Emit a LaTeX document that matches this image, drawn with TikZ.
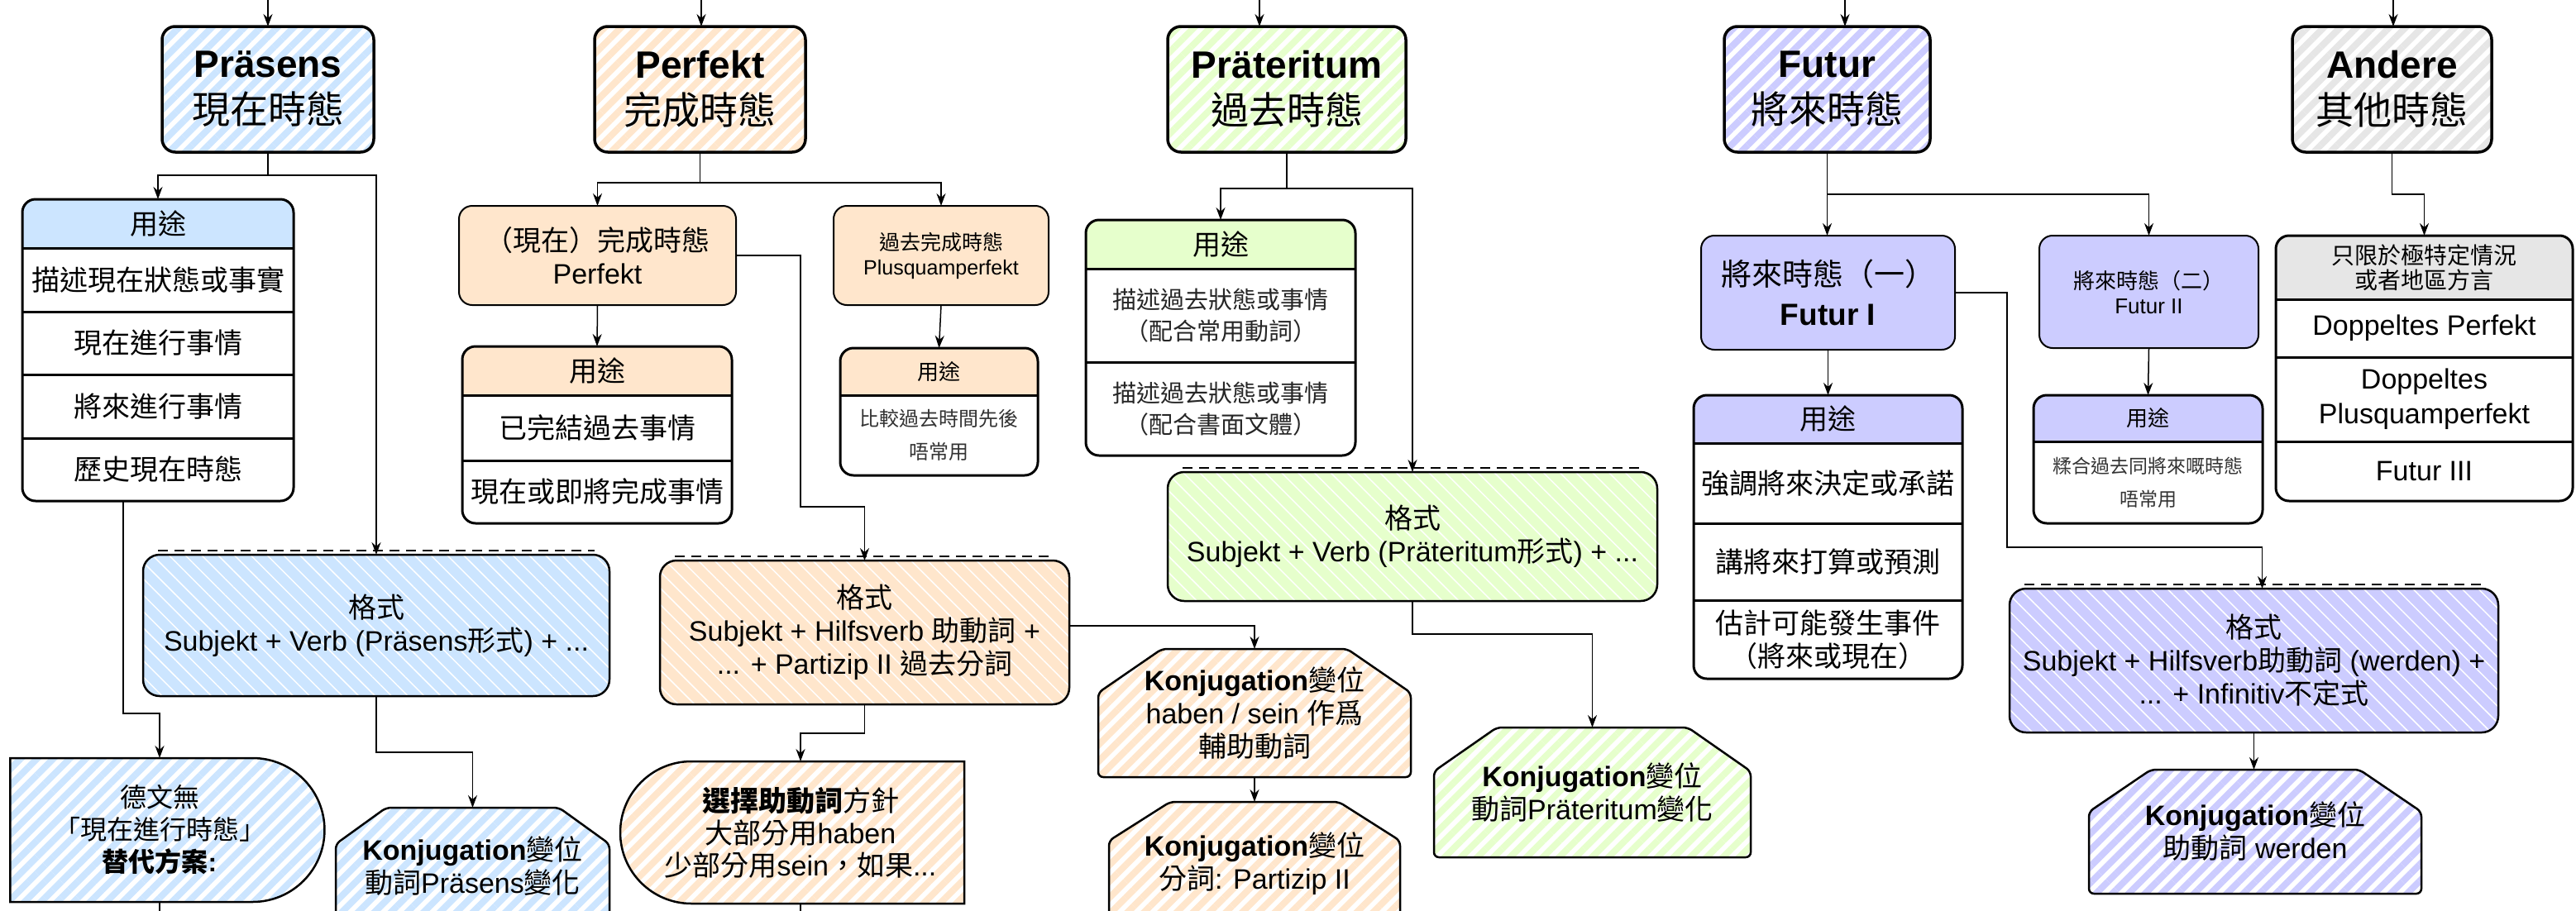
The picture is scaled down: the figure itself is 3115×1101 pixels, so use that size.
\documentclass[tikz,border=0pt]{standalone}
\usepackage{fontspec}
\setmainfont{Liberation Sans}
\newfontfamily\cjk{Noto Sans CJK TC}
\usetikzlibrary{positioning,arrows.meta,patterns.meta,shapes.misc}
\newcommand\zh[1]{{\cjk #1}}
\definecolor{cblue}{HTML}{CCE5FF}
\definecolor{corange}{HTML}{FFE6CC}
\definecolor{cgreen}{HTML}{E6FFCC}
\definecolor{cpurple}{HTML}{CCCCFF}
\definecolor{cgray}{HTML}{E6E6E6}
\pgfdeclarelayer{bg}
\pgfsetlayers{bg,main}
\tikzset{
  base/.style={inner sep=0pt, outer sep=0pt, align=center, font=\fontsize{34}{40}\selectfont},
  hatch/.style={pattern={Lines[angle=45,distance=14pt,line width=8pt]}, pattern color=#1},
  tense/.style={base, draw, line width=3.5pt, rounded corners=16pt, minimum height=152pt, font=\fontsize{46}{56}\selectfont},
  sub/.style={base, draw, line width=2pt, rounded corners=16pt, fill=#1},
  fmt/.style={base, draw, line width=2.5pt, rounded corners=20pt, preaction={fill=#1}, pattern={Lines[angle=-45,distance=14pt,line width=1.5pt]}, pattern color=white},
  half/.style={base, draw, line width=2.5pt, rounded rectangle, hatch=#1},
  small/.style={font=\fontsize{24}{40}\selectfont, text=black!80},
  conn/.style={line width=1.5pt, -{Stealth[length=15pt,width=11pt]}},
  wire/.style={line width=1.5pt},
  tbl/.style={line width=3pt, rounded corners=16pt},
  sep/.style={line width=3pt},
  dashtop/.style={dashed, dash pattern=on 12pt off 8pt, line width=2pt},
}
% table outline, header fill and header rule
\newcommand\tablebox[3]{%
  \begin{pgfonlayer}{bg}
    \fill[white, rounded corners=16pt] (#1.north west) rectangle (#2.south east);
    \begin{scope}
      \clip[rounded corners=16pt] (#1.north west) rectangle (#2.south east);
      \fill[#3] (#1.north west) rectangle (#1.south east);
    \end{scope}
  \end{pgfonlayer}
  \draw[tbl] (#1.north west) rectangle (#2.south east);
  \draw[sep] (#1.south west) -- (#1.south east);
}
% octagon-like box with cut top corners
\newcommand\konjbox[4]{%
  \begin{pgfonlayer}{bg}
    \path[hatch=#4, rounded corners=6pt] (#1.south west) -- ([yshift=-#3]#1.north west) -- ([xshift=#2]#1.north west) -- ([xshift=-#2]#1.north east) -- ([yshift=-#3]#1.north east) -- (#1.south east) -- cycle;
  \end{pgfonlayer}
  \draw[line width=2.5pt, rounded corners=6pt] (#1.south west) -- ([yshift=-#3]#1.north west) -- ([xshift=#2]#1.north west) -- ([xshift=-#2]#1.north east) -- ([yshift=-#3]#1.north east) -- (#1.south east) -- cycle;
}
\begin{document}
\begin{tikzpicture}[x=1pt,y=-1pt]
\useasboundingbox (0,0) rectangle (3115,1101);

%% Praesens
\node[tense, hatch=cblue, minimum width=256pt] (praes) at (324,108) {{\bfseries Präsens}\\\zh{現在時態}};
\node[base, minimum width=328pt, minimum height=59pt] (pu0) at (191,270.5) {\zh{用途}};
\node[base, minimum width=328pt, minimum height=77pt, below=0pt of pu0] (pu1) {\zh{描述現在狀態或事實}};
\node[base, minimum width=328pt, minimum height=76pt, below=0pt of pu1] (pu2) {\zh{現在進行事情}};
\node[base, minimum width=328pt, minimum height=77pt, below=0pt of pu2] (pu3) {\zh{將來進行事情}};
\node[base, minimum width=328pt, minimum height=76pt, below=0pt of pu3] (pu4) {\zh{歷史現在時態}};
\tablebox{pu0}{pu4}{cblue}
\foreach \r in {pu2,pu3,pu4} \draw[sep] (\r.north west) -- (\r.north east);
\node[fmt=cblue, minimum width=564pt, minimum height=171pt] (prf) at (455,756.5) {\zh{格式}\\Subjekt + Verb (Präsens\zh{形式}) + ...};
\draw[dashtop] ([xshift=18pt,yshift=5pt]prf.north west) -- ([xshift=-18pt,yshift=5pt]prf.north east);
\node[half=cblue, rounded rectangle left arc=none, minimum width=380pt, minimum height=174pt, font=\fontsize{32}{39}\selectfont] (alt) at (193,1004) {\zh{德文無}\\\zh{「現在進行時態」}\\\zh{\bfseries 替代方案}{\bfseries :}};
\node[base, minimum width=331pt, minimum height=142pt] (pkj) at (571.5,1048) {{\bfseries Konjugation}\zh{變位}\\\zh{動詞}Präsens\zh{變化}};
\konjbox{pkj}{61pt}{44pt}{cblue}

%% Perfekt
\node[tense, hatch=corange, minimum width=255pt] (perf) at (846.5,108) {{\bfseries Perfekt}\\\zh{完成時態}};
\node[sub=corange, minimum width=335pt, minimum height=120pt] (pps) at (722.5,309) {\zh{（現在）完成時態}\\Perfekt};
\node[sub=corange, minimum width=260pt, minimum height=120pt, font=\fontsize{25}{30}\selectfont] (plq) at (1138,309) {\zh{過去完成時態}\\Plusquamperfekt};
\node[base, minimum width=326pt, minimum height=59pt] (ppu0) at (722,448.5) {\zh{用途}};
\node[base, minimum width=326pt, minimum height=79pt, below=0pt of ppu0] (ppu1) {\zh{已完結過去事情}};
\node[base, minimum width=326pt, minimum height=76pt, below=0pt of ppu1] (ppu2) {\zh{現在或即將完成事情}};
\tablebox{ppu0}{ppu2}{corange}
\draw[sep] (ppu2.north west) -- (ppu2.north east);
\node[base, minimum width=239pt, minimum height=57pt, font=\fontsize{26}{30}\selectfont] (plu0) at (1135.5,449.5) {\zh{用途}};
\node[base, small, minimum width=239pt, minimum height=97pt, below=0pt of plu0] (plu1) {\zh{比較過去時間先後}\\\zh{唔常用}};
\tablebox{plu0}{plu1}{corange}
\node[fmt=corange, minimum width=495pt, minimum height=174pt] (pff) at (1045.5,765) {\zh{格式}\\Subjekt + Hilfsverb \zh{助動詞} +\\... + Partizip II \zh{過去分詞}};
\draw[dashtop] ([xshift=18pt,yshift=5pt]pff.north west) -- ([xshift=-18pt,yshift=5pt]pff.north east);
\node[half=corange, rounded rectangle right arc=none, minimum width=416pt, minimum height=172pt, font=\fontsize{34}{39}\selectfont] (sel) at (968,1007) {\zh{\bfseries 選擇助動詞}\zh{方針}\\\zh{大部分用}haben\\\zh{少部分用}sein\zh{，如果}...};
\node[base, minimum width=378pt, minimum height=155pt] (hkj) at (1517,862.5) {{\bfseries Konjugation}\zh{變位}\\haben / sein \zh{作爲}\\\zh{輔助動詞}};
\konjbox{hkj}{77pt}{53pt}{corange}
\node[base, minimum width=352pt, minimum height=150pt] (ptk) at (1517,1045) {{\bfseries Konjugation}\zh{變位}\\\zh{分詞}: Partizip II};
\konjbox{ptk}{74pt}{47pt}{corange}

%% Praeteritum
\node[tense, hatch=cgreen, minimum width=288pt] (praet) at (1556,108) {{\bfseries Präteritum}\\\zh{過去時態}};
\node[base, minimum width=326pt, minimum height=59pt] (tu0) at (1476,295.5) {\zh{用途}};
\node[base, minimum width=326pt, minimum height=113pt, below=0pt of tu0, font=\fontsize{29}{38}\selectfont, text=black!85] (tu1) {\zh{描述過去狀態或事情}\\\zh{（配合常用動詞）}};
\node[base, minimum width=326pt, minimum height=113pt, below=0pt of tu1, font=\fontsize{29}{38}\selectfont, text=black!85] (tu2) {\zh{描述過去狀態或事情}\\\zh{（配合書面文體）}};
\tablebox{tu0}{tu2}{cgreen}
\draw[sep] (tu2.north west) -- (tu2.north east);
\node[fmt=cgreen, minimum width=592pt, minimum height=156pt] (tf) at (1708,649) {\zh{格式}\\Subjekt + Verb (Präteritum\zh{形式}) + ...};
\draw[dashtop] ([xshift=18pt,yshift=5pt]tf.north west) -- ([xshift=-18pt,yshift=5pt]tf.north east);
\node[base, minimum width=383pt, minimum height=157pt] (tkj) at (1925.5,958.5) {{\bfseries Konjugation}\zh{變位}\\\zh{動詞}Präteritum\zh{變化}};
\konjbox{tkj}{76pt}{53pt}{cgreen}

%% Futur
\node[tense, hatch=cpurple, minimum width=249pt] (futur) at (2209.5,108) {{\bfseries Futur}\\\zh{將來時態}};
\node[sub=cpurple, minimum width=307pt, minimum height=138pt, font=\fontsize{37}{48}\selectfont] (fi) at (2210.5,354) {\zh{將來時態（一）}\\{\bfseries Futur I}};
\node[sub=cpurple, minimum width=265pt, minimum height=136pt, font=\fontsize{26}{30}\selectfont] (fii) at (2598.5,353) {\zh{將來時態（二）}\\Futur II};
\node[base, minimum width=325pt, minimum height=58pt] (fiu0) at (2210.5,507) {\zh{用途}};
\node[base, minimum width=325pt, minimum height=97pt, below=0pt of fiu0] (fiu1) {\zh{強調將來決定或承諾}};
\node[base, minimum width=325pt, minimum height=93pt, below=0pt of fiu1] (fiu2) {\zh{講將來打算或預測}};
\node[base, minimum width=325pt, minimum height=95pt, below=0pt of fiu2] (fiu3) {\zh{估計可能發生事件}\\\zh{（將來或現在）}};
\tablebox{fiu0}{fiu3}{cpurple}
\foreach \r in {fiu2,fiu3} \draw[sep] (\r.north west) -- (\r.north east);
\node[base, minimum width=277pt, minimum height=56pt, font=\fontsize{26}{30}\selectfont] (fiiu0) at (2597.5,506) {\zh{用途}};
\node[base, small, minimum width=277pt, minimum height=99pt, below=0pt of fiiu0, font=\fontsize{23}{40}\selectfont] (fiiu1) {\zh{糅合過去同將來嘅時態}\\\zh{唔常用}};
\tablebox{fiiu0}{fiiu1}{cpurple}
\node[fmt=cpurple, minimum width=591pt, minimum height=174pt] (ff) at (2725.5,799) {\zh{格式}\\Subjekt + Hilfsverb\zh{助動詞} (werden) +\\... + Infinitiv\zh{不定式}};
\draw[dashtop] ([xshift=18pt,yshift=5pt]ff.north west) -- ([xshift=-18pt,yshift=5pt]ff.north east);
\node[base, minimum width=402pt, minimum height=150pt] (fkj) at (2727,1006) {{\bfseries Konjugation}\zh{變位}\\\zh{助動詞} werden};
\konjbox{fkj}{75pt}{51pt}{cpurple}

%% Andere
\node[tense, hatch=cgray, minimum width=241pt] (andere) at (2892.5,108) {{\bfseries Andere}\\\zh{其他時態}};
\node[base, minimum width=359pt, minimum height=77pt, font=\fontsize{28}{30}\selectfont] (au0) at (2931.5,323.5) {\zh{只限於極特定情況}\\\zh{或者地區方言}};
\node[base, minimum width=359pt, minimum height=70pt, below=0pt of au0] (au1) {Doppeltes Perfekt};
\node[base, minimum width=359pt, minimum height=102pt, below=0pt of au1, font=\fontsize{34}{42}\selectfont] (au2) {Doppeltes\\Plusquamperfekt};
\node[base, minimum width=359pt, minimum height=72pt, below=0pt of au2] (au3) {Futur III};
\tablebox{au0}{au3}{cgray}
\foreach \r in {au2,au3} \draw[sep] (\r.north west) -- (\r.north east);

%% incoming from above
\coordinate (inpraes) at (324,0);
\coordinate (inperf) at (848,0);
\coordinate (inpraet) at (1523,0);
\coordinate (infut) at (2231,0);
\coordinate (inand) at (2894,0);
\draw[conn] (inpraes) -- (inpraes |- praes.north);
\draw[conn] (inperf) -- (inperf |- perf.north);
\draw[conn] (inpraet) -- (inpraet |- praet.north);
\draw[conn] (infut) -- (infut |- futur.north);
\draw[conn] (inand) -- (inand |- andere.north);

%% connectors
\draw[conn] (praes.south) -- ++(0,28) -| (pu0.north);
\draw[conn] (praes.south) -- ++(0,28) -| (prf.north);
\draw[conn] ([xshift=-42pt]pu4.south) -- ++(0,257) -| (alt.north);
\draw[wire] (alt.south) -- ++(0,30);
\draw[conn] (prf.south) -- ++(0,68) -| (pkj.north);

\draw[conn] (perf.south) -- ++(0,37) -| (pps.north);
\draw[conn] (perf.south) -- ++(0,37) -| (plq.north);
\draw[conn] (pps.south) -- (ppu0.north);
\draw[conn] (plq.south) -- (plu0.north);
\coordinate (pbend) at (968,613);
\draw[conn] (pps.east) -| (pbend) -| (pff.north);
\draw[conn] (pff.south) -- ++(0,35) -| (sel.north);
\draw[wire] (sel.south) -- ++(0,30);
\draw[conn] ([yshift=8pt]pff.east) -| (hkj.north);
\draw[conn] (hkj.south) -- (ptk.north);

\draw[conn] (praet.south) -- ++(0,44) -| (tu0.north);
\draw[conn] (praet.south) -- ++(0,44) -| (tf.north);
\draw[conn] (tf.south) -- ++(0,40) -| (tkj.north);

\draw[conn] (futur.south) -- (futur.south |- fi.north);
\draw[conn] (futur.south) -- ++(0,51) -| (fii.north);
\draw[conn] (fi.south) -- (fiu0.north);
\draw[conn] (fii.south) -- (fiiu0.north);
\coordinate (fbend) at (2427,662);
\draw[conn] (fi.east) -| (fbend) -| ([xshift=10pt]ff.north);
\draw[conn] (ff.south) -- (ff.south |- fkj.north);

\draw[conn] (andere.south) -- ++(0,51) -| (au0.north);
\end{tikzpicture}
\end{document}
